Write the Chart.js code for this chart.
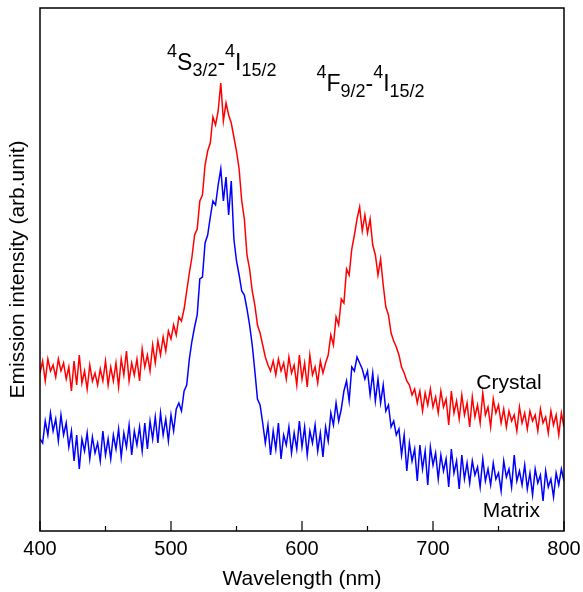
<!DOCTYPE html>
<html>
<head>
<meta charset="utf-8">
<script src="https://cdn.jsdelivr.net/npm/chart.js@4.4.1/dist/chart.umd.min.js"></script>
<style>
  html, body { margin: 0; padding: 0; background: #fff; }
  #wrap { width: 583px; height: 592px; }
</style>
</head>
<body>
<div id="wrap"><canvas id="spectra"></canvas></div>
<script>
// sampling grid of the spectra (nm)
const wavelengths = [];
for (let w = 400; w <= 800; w += 2) wavelengths.push(w);

// emission intensity (arb. unit), one value every 2 nm
const crystal = [
  158,170,150,172,160,166,154,172,160,168,
  152,164,140,170,146,176,148,160,142,166,
  150,158,146,162,150,170,146,164,150,168,
  144,172,156,180,150,168,156,172,150,182,
  164,176,160,186,168,190,176,194,180,200,
  192,206,196,214,210,222,240,258,274,296,
  302,330,336,366,380,388,414,406,420,448,
  410,428,416,408,394,380,362,330,312,276,
  262,240,226,206,198,186,174,166,160,170,
  156,172,160,168,152,174,158,166,146,176,
  152,168,144,176,156,164,148,170,158,168,
  176,196,186,214,206,232,228,262,256,282,
  296,312,324,300,316,298,312,286,276,256,
  272,246,224,216,198,190,184,176,164,158,
  150,146,136,142,128,140,120,138,126,142,
  124,134,118,140,124,132,106,140,118,130,
  112,136,116,128,104,134,114,126,108,138,
  116,124,104,132,118,126,108,122,104,120,
  110,116,100,124,108,118,102,120,110,116,
  100,122,108,114,98,120,106,116,96,118,
  104
];

const matrix = [
  92,88,110,96,118,100,112,90,116,96,
  108,84,100,70,96,62,92,80,98,72,
  94,78,88,70,100,76,92,72,96,82,
  102,74,98,84,106,76,100,86,104,80,
  108,82,110,92,114,88,118,96,112,90,
  116,100,122,128,120,140,146,172,190,204,
  216,252,254,288,296,314,330,326,346,362,
  330,354,316,350,292,270,256,240,236,222,
  206,186,160,132,126,108,88,106,76,100,
  82,108,72,96,86,104,78,98,82,110,
  84,104,76,100,88,106,80,98,74,104,
  90,118,106,128,110,122,140,150,130,164,
  160,174,168,162,152,160,136,158,130,152,
  128,146,120,126,104,110,96,102,76,96,
  60,88,70,82,50,86,62,80,46,84,
  66,78,52,76,60,72,44,82,58,70,
  42,76,52,68,48,70,56,64,44,72,
  50,62,46,68,52,58,40,70,54,62,
  44,76,50,60,46,66,42,58,36,62,
  48,56,30,60,44,52,34,58,46,62,
  50
];

const xTicks = [400, 450, 500, 550, 600, 650, 700, 750, 800];

// transition labels: [text, kind] with kind "", "sup" or "sub"
const peakLabels = [
  { at: [497, 461], parts: [["4","sup"],["S",""],["3/2","sub"],["-",""],["4","sup"],["I",""],["15/2","sub"]] },
  { at: [611, 440], parts: [["4","sup"],["F",""],["9/2","sub"],["-",""],["4","sup"],["I",""],["15/2","sub"]] }
];
const seriesLabels = [
  { text: "Crystal", at: [733, 142] },
  { text: "Matrix", at: [738, 14] }
];

const FONT = "'Liberation Sans', Arial, Helvetica, sans-serif";

const toXY = (vals) => vals.map((v, i) => ({ x: wavelengths[i], y: v }));

const framePlugin = {
  id: "frame",
  afterDraw(chart) {
    const { ctx, chartArea: a, scales } = chart;
    ctx.save();
    ctx.strokeStyle = "#000";
    ctx.lineWidth = 1.5;
    ctx.strokeRect(a.left, a.top, a.right - a.left, a.bottom - a.top);
    // inward ticks on the wavelength axis
    ctx.lineWidth = 1.2;
    xTicks.forEach((v) => {
      const px = scales.x.getPixelForValue(v);
      const len = v % 100 === 0 ? 10 : 5;
      ctx.beginPath();
      ctx.moveTo(px, a.bottom);
      ctx.lineTo(px, a.bottom - len);
      ctx.stroke();
    });

    ctx.fillStyle = "#000";
    ctx.textBaseline = "alphabetic";
    ctx.textAlign = "left";
    peakLabels.forEach((lab) => {
      let px = scales.x.getPixelForValue(lab.at[0]);
      const py = scales.y.getPixelForValue(lab.at[1]);
      lab.parts.forEach(([t, kind]) => {
        const size = kind ? 18 : 23;
        const dy = kind === "sup" ? -13 : kind === "sub" ? 6 : 0;
        ctx.font = size + "px " + FONT;
        ctx.fillText(t, px, py + dy);
        px += ctx.measureText(t).width;
      });
    });

    ctx.font = "21px " + FONT;
    seriesLabels.forEach((lab) => {
      ctx.fillText(lab.text, scales.x.getPixelForValue(lab.at[0]), scales.y.getPixelForValue(lab.at[1]));
    });
    ctx.restore();
  }
};

new Chart(document.getElementById("spectra"), {
  type: "line",
  data: {
    datasets: [
      {
        label: "Crystal",
        data: toXY(crystal),
        borderColor: "#ff0000",
        borderWidth: 1.5,
        pointRadius: 0,
        tension: 0,
      },
      {
        label: "Matrix",
        data: toXY(matrix),
        borderColor: "#0000ff",
        borderWidth: 1.5,
        pointRadius: 0,
        tension: 0,
      },
    ],
  },
  options: {
    responsive: true,
    maintainAspectRatio: false,
    animation: false,
    layout: { padding: { top: 8, right: 19, left: 0, bottom: 0 } },
    scales: {
      x: {
        type: "linear",
        min: 400,
        max: 800,
        afterFit: (s) => { s.height = 61; s.paddingLeft = 0; s.paddingRight = 0; },
        ticks: {
          stepSize: 100,
          color: "#000",
          font: { family: FONT, size: 20 },
          padding: 6,
          maxRotation: 0,
        },
        grid: { display: false, drawTicks: false },
        border: { display: false },
        title: {
          display: true,
          text: "Wavelength (nm)",
          color: "#000",
          font: { family: FONT, size: 21 },
          padding: { top: 2, bottom: 0 },
        },
      },
      y: {
        min: 0,
        max: 523,
        afterFit: (s) => { s.width = 40; },
        ticks: { display: false },
        grid: { display: false, drawTicks: false },
        border: { display: false },
        title: {
          display: true,
          text: "Emission intensity (arb.unit)",
          color: "#000",
          font: { family: FONT, size: 21 },
          padding: { top: 6, bottom: 0 },
        },
      },
    },
    plugins: {
      legend: { display: false },
      tooltip: { enabled: false },
    },
  },
  plugins: [framePlugin],
});
</script>
</body>
</html>
